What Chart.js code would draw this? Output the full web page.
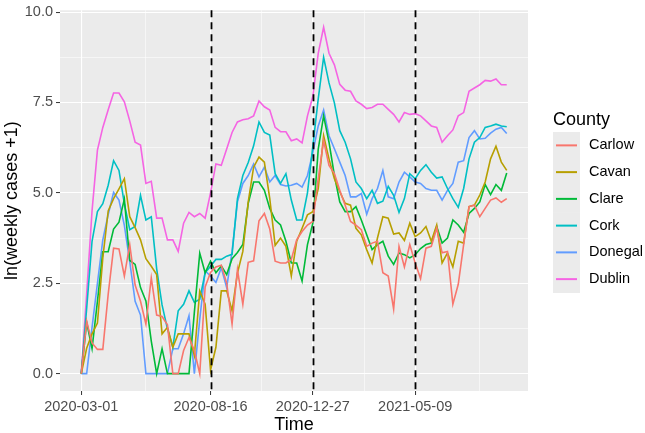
<!DOCTYPE html>
<html>
<head>
<meta charset="utf-8">
<script src="https://cdn.jsdelivr.net/npm/chart.js@4"></script>
<style>
  html, body { margin: 0; padding: 0; background: #ffffff; }
  #wrap { width: 645px; height: 433px; }
</style>
</head>
<body>
<div id="wrap"><canvas id="chart" width="645" height="433"></canvas></div>
<script>
// ---------------- Data ----------------
// weekly series, week 0 = 2020-03-01
const counties = ["Carlow", "Cavan", "Clare", "Cork", "Donegal", "Dublin"];
const countyColors = ["#F8766D", "#B79F00", "#00BA38", "#00BFC4", "#619CFF", "#F564E3"];

const carlow = [0, 1.45, 0.85, 0.67, 0.67, 2.2, 3.47, 3.45, 2.7, 3.57,
  2.45, 2.0, 1.37, 2.65, 1.62, 1.58, 1.35, 0, 0, 0.64,
  1.0, 0.64, 0, 2.4, 2.8, 2.95, 3.0, 2.5, 1.37, 2.88,
  1.92, 3.08, 3.12, 4.23, 4.43, 4.0, 3.11, 3.06, 3.06, 3.16,
  3.7, 3.93, 4.11, 4.21, 5.4, 6.44, 5.76, 5.53, 5.07, 4.66,
  4.21, 4.11, 3.98, 3.52, 3.61, 3.66, 2.79, 2.7, 1.79, 3.52,
  2.95, 3.57, 3.06, 2.63, 3.47, 3.52, 4.02, 3.34, 3.38, 1.92,
  2.47, 3.57, 4.62, 4.66, 4.34, 4.57, 4.8, 4.86, 4.74, 4.84];

const cavan = [0, 0.7, 1.1, 1.4, 3.2, 4.5, 4.84, 5.11, 5.39, 4.34,
  4.04, 3.7, 3.18, 2.97, 2.74, 1.1, 1.28, 0.73, 1.1, 1.1,
  1.1, 0.5, 2.29, 1.92, 0.1, 0.73, 2.29, 2.29, 1.74, 2.78,
  3.38, 4.75, 5.71, 5.99, 5.85, 4.84, 3.55, 3.75, 3.52, 2.7,
  3.66, 4.02, 4.39, 4.48, 5.12, 6.58, 5.94, 5.39, 5.03, 4.71,
  4.66, 4.02, 3.84, 3.43, 3.06, 3.75, 4.34, 4.3, 3.86, 3.89,
  3.68, 4.16, 3.79, 3.89, 4.07, 3.66, 4.11, 3.06, 3.34, 2.95,
  3.66, 3.61, 4.62, 4.66, 4.94, 5.3, 5.94, 6.29, 5.85, 5.62];

const clare = [0, 1.42, 0.69, 2.0, 3.37, 3.37, 4.0, 4.19, 4.83, 3.13,
  3.02, 2.38, 2.01, 0.9, 0, 0.69, 0, 0, 0, 0,
  0, 1.7, 3.33, 2.79, 3.11, 2.79, 2.98, 2.74, 3.18, 3.35,
  3.57, 4.71, 5.3, 5.3, 5.07, 4.57, 4.25, 4.11, 3.66, 3.06,
  3.06, 2.56, 3.57, 4.16, 6.21, 7.13, 6.4, 5.48, 4.75, 4.48,
  4.48, 4.62, 4.25, 3.84, 3.43, 3.57, 3.66, 3.25, 3.02, 3.34,
  3.29, 3.2, 3.29, 3.46, 3.57, 3.61, 4.07, 3.61, 3.75, 4.25,
  4.11, 3.91, 4.43, 4.57, 4.75, 5.23, 4.95, 5.23, 5.07, 5.55];

const cork = [0, 1.8, 3.66, 4.48, 4.7, 5.21, 5.89, 5.62, 4.7, 3.98,
  4.07, 4.93, 4.25, 4.34, 2.9, 1.9, 1.24, 0.73, 1.74, 1.92,
  2.29, 1.97, 2.06, 2.79, 2.97, 3.16, 3.16, 3.25, 3.3, 4.84,
  5.48, 5.84, 6.3, 6.96, 6.67, 6.6, 5.53, 5.26, 5.53, 4.8,
  4.25, 4.25, 5.0, 6.3, 7.6, 8.75, 8.04, 7.49, 6.72, 6.4,
  5.94, 5.3, 5.12, 4.84, 5.07, 4.71, 4.77, 5.18, 4.93, 4.46,
  4.84, 5.53, 5.39, 5.62, 5.78, 5.57, 5.41, 5.44, 5.12, 4.84,
  4.6, 5.12, 5.94, 6.4, 6.53, 6.81, 6.85, 6.9, 6.85, 6.83];

const donegal = [0, 0, 1.28, 2.5, 3.7, 4.4, 5.01, 4.8, 4.1, 3.1,
  2.0, 1.62, 0, 0, 0, 0, 0, 0.69, 0.69, 1.1,
  1.6, 0, 1.5, 2.84, 2.7, 2.52, 2.93, 2.38, 3.38, 4.75,
  5.26, 5.48, 5.8, 5.44, 5.71, 5.3, 5.48, 5.23, 5.19, 5.21,
  5.26, 5.16, 5.48, 6.12, 6.85, 7.29, 6.58, 6.22, 5.85, 5.48,
  4.89, 4.89, 4.98, 4.41, 4.84, 5.12, 5.62, 4.89, 4.84, 5.3,
  5.57, 5.44, 5.3, 5.26, 5.12, 5.07, 5.07, 4.8, 5.07, 5.26,
  5.85, 5.89, 6.53, 6.72, 6.49, 6.51, 6.65, 6.76, 6.81, 6.64];

const dublin = [0, 2.2, 4.5, 6.18, 6.81, 7.3, 7.76, 7.76, 7.52, 6.99,
  6.4, 6.32, 5.26, 5.32, 4.3, 4.3, 3.7, 3.7, 3.38, 4.16,
  4.46, 4.34, 4.43, 4.3, 5.0, 5.8, 5.76, 6.21, 6.67, 6.96,
  7.02, 7.05, 7.13, 7.54, 7.38, 7.29, 6.81, 6.69, 6.69, 6.44,
  6.49, 6.38, 7.13, 7.67, 8.86, 9.58, 8.86, 8.54, 8.0, 7.84,
  7.81, 7.54, 7.45, 7.33, 7.36, 7.45, 7.45, 7.31, 7.17, 6.96,
  7.22, 7.17, 7.19, 7.13, 6.99, 6.85, 6.81, 6.4, 6.58, 6.74,
  7.13, 7.22, 7.81, 7.9, 7.99, 8.11, 8.09, 8.15, 7.99, 7.99];

const seriesValues = [carlow, cavan, clare, cork, donegal, dublin];

// axis breaks (in weeks since 2020-03-01)
const tickWeeks = [0, 24, 43, 62];
const tickLabels = ["2020-03-01", "2020-08-16", "2020-12-27", "2021-05-09"];
const minorWeeks = [12, 33.5, 52.5, 74];
const yMajor = [0, 2.5, 5, 7.5, 10];
const yMinor = [1.25, 3.75, 6.25, 8.75];
const eventWeeks = [24, 43, 62];

// ---------------- Helpers ----------------
const FONT = '"Liberation Sans", Arial, sans-serif';
Chart.defaults.font.family = FONT;

function isXMajor(v) { return tickWeeks.includes(v); }
function isYMajor(v) { return yMajor.includes(v); }

// ---------------- Plugins ----------------
const panelBg = {
  id: "panelBg",
  beforeDraw(chart) {
    const a = chart.chartArea;
    const ctx = chart.ctx;
    ctx.save();
    ctx.fillStyle = "#EBEBEB";
    ctx.fillRect(a.left, a.top, a.right - a.left, a.bottom - a.top);
    ctx.restore();
  }
};

const eventLines = {
  id: "eventLines",
  afterDatasetsDraw(chart) {
    const a = chart.chartArea;
    const xs = chart.scales.x;
    const ctx = chart.ctx;
    ctx.save();
    ctx.strokeStyle = "#000000";
    ctx.lineWidth = 1.8;
    ctx.setLineDash([7, 5]);
    eventWeeks.forEach(w => {
      const px = Math.round(xs.getPixelForValue(w)) + 0.5;
      ctx.beginPath();
      ctx.moveTo(px, a.top);
      ctx.lineTo(px, a.bottom);
      ctx.stroke();
    });
    ctx.restore();
  }
};

const ggLegend = {
  id: "ggLegend",
  afterDraw(chart) {
    const ctx = chart.ctx;
    const left = chart.chartArea.right + 25;
    const keyH = 26.75;
    const keyW = 27;
    const top0 = 132;
    ctx.save();
    ctx.textBaseline = "middle";
    ctx.textAlign = "left";
    ctx.fillStyle = "#000000";
    ctx.font = "18px " + FONT;
    ctx.fillText("County", left, 120);
    counties.forEach((name, i) => {
      const top = top0 + i * keyH;
      const mid = top + keyH / 2;
      ctx.fillStyle = "#EBEBEB";
      ctx.fillRect(left, top, keyW, keyH + 0.5);
      ctx.strokeStyle = countyColors[i];
      ctx.lineWidth = 2;
      ctx.beginPath();
      ctx.moveTo(left + 3, mid);
      ctx.lineTo(left + keyW - 3, mid);
      ctx.stroke();
      ctx.fillStyle = "#000000";
      ctx.font = "14.5px " + FONT;
      ctx.fillText(name, left + 36, mid);
    });
    ctx.restore();
  }
};

// ---------------- Chart ----------------
const datasets = counties.map((name, i) => ({
  label: name,
  data: seriesValues[i].map((v, k) => ({ x: k, y: v })),
  borderColor: countyColors[i],
  backgroundColor: "transparent",
  borderWidth: 1.6,
  pointRadius: 0,
  tension: 0
}));

new Chart(document.getElementById("chart"), {
  type: "line",
  data: { datasets },
  options: {
    responsive: false,
    animation: false,
    layout: { padding: { top: 7, right: 117, bottom: 0, left: 0 } },
    plugins: {
      legend: { display: false },
      tooltip: { enabled: false }
    },
    scales: {
      x: {
        type: "linear",
        min: -3.95,
        max: 82.95,
        afterBuildTicks: sc => {
          sc.ticks = [...tickWeeks, ...minorWeeks].sort((a, b) => a - b).map(v => ({ value: v }));
        },
        afterFit: sc => { sc.height = 42; },
        border: { display: false },
        grid: {
          color: "#FFFFFF",
          lineWidth: c => (c.tick && isXMajor(c.tick.value)) ? 1.1 : 0.55,
          tickLength: 4,
          tickWidth: 1,
          tickColor: c => (c.tick && isXMajor(c.tick.value)) ? "#333333" : "rgba(0,0,0,0)"
        },
        ticks: {
          autoSkip: false,
          maxRotation: 0,
          padding: 3,
          color: "#4D4D4D",
          font: { size: 14.5 },
          callback: v => {
            const i = tickWeeks.indexOf(v);
            return i >= 0 ? tickLabels[i] : "";
          }
        },
        title: {
          display: true,
          text: "Time",
          color: "#000000",
          font: { size: 18, lineHeight: 0.9 },
          padding: { top: 0, bottom: 0 }
        }
      },
      y: {
        type: "linear",
        min: -0.48,
        max: 10.05,
        afterBuildTicks: sc => {
          sc.ticks = [...yMajor, ...yMinor].sort((a, b) => a - b).map(v => ({ value: v }));
        },
        afterFit: sc => { sc.width = 60; },
        border: { display: false },
        grid: {
          color: "#FFFFFF",
          lineWidth: c => (c.tick && isYMajor(c.tick.value)) ? 1.1 : 0.55,
          tickLength: 4,
          tickWidth: 1,
          tickColor: c => (c.tick && isYMajor(c.tick.value)) ? "#333333" : "rgba(0,0,0,0)"
        },
        ticks: {
          autoSkip: false,
          padding: 3,
          color: "#4D4D4D",
          font: { size: 14.5, lineHeight: 1 },
          callback: v => isYMajor(v) ? v.toFixed(1) : ""
        },
        title: {
          display: true,
          text: "ln(weekly cases +1)",
          color: "#000000",
          font: { size: 18, lineHeight: 1.2 },
          padding: { top: 1, bottom: 0 }
        }
      }
    }
  },
  plugins: [panelBg, eventLines, ggLegend]
});
</script>
</body>
</html>
